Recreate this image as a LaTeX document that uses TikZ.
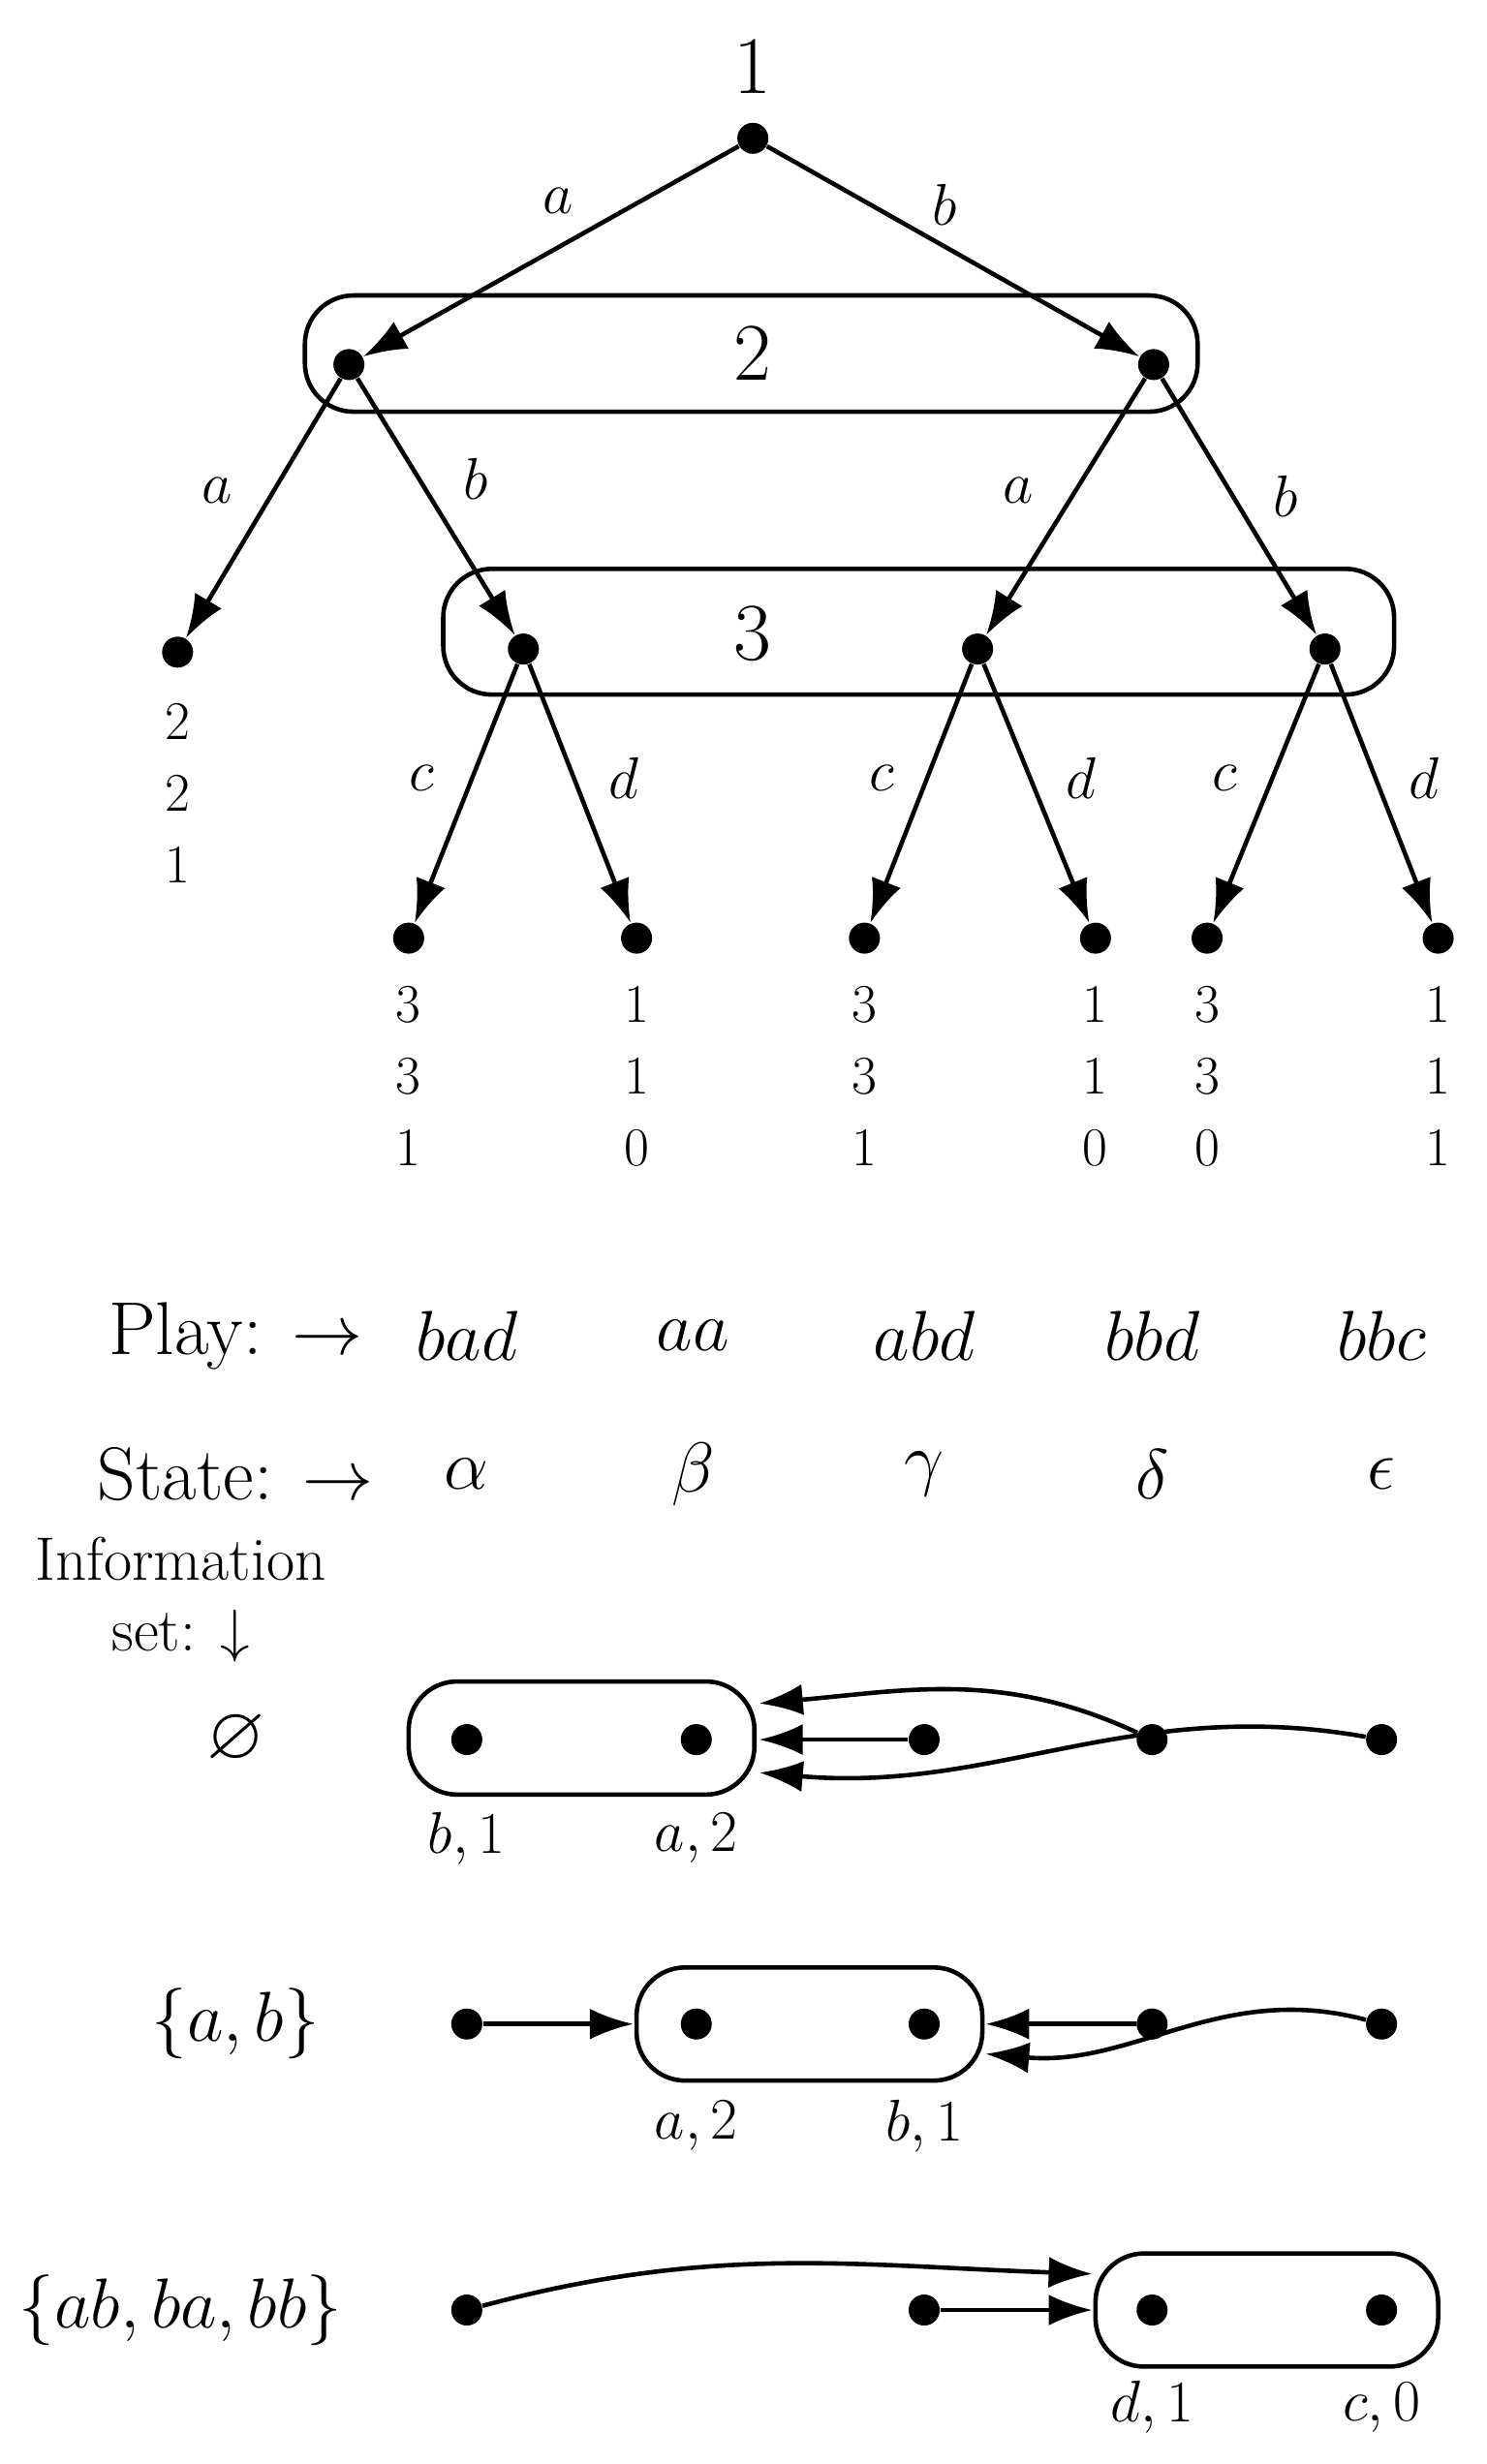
\documentclass[tikz,border=0pt]{standalone}
\usepackage{amssymb}
\usetikzlibrary{arrows.meta}
\tikzset{
  dot/.style={circle,fill=black,inner sep=0pt,minimum size=3.2mm},
  edge/.style={line width=1.3pt,-{Latex[length=4.5mm,width=3.2mm]}},
  infoset/.style={line width=1.3pt,rounded corners=5mm},
  lbl/.style={font=\fontsize{19}{22}\selectfont},
  pay/.style={font=\fontsize{16}{21}\selectfont,align=center},
}
\begin{document}
\begin{tikzpicture}[x=0.0162cm,y=-0.0162cm]
\useasboundingbox (0,0) rectangle (946,1568);

  %Information sets of the tree
  \draw[infoset] (194,188) rectangle (762,262);
  \draw[infoset] (282,362) rectangle (887,442);
  \node[lbl,font=\fontsize{24}{28}\selectfont] at (479,225) {2};
  \node[lbl,font=\fontsize{24}{28}\selectfont] at (479,403) {3};

  %Tree
  \node[dot] (r) at (479,88) {};
  \node[lbl,font=\fontsize{24}{28}\selectfont] at (479,42) {1};
  \node[dot] (a) at (222,232) {};
  \node[dot] (b) at (734,232) {};
  \node[dot] (aa) at (113,415) {};
  \node[dot] (ab) at (333,413) {};
  \node[dot] (ba) at (622,413) {};
  \node[dot] (bb) at (843,413) {};
  \node[dot] (abc) at (260,597) {};
  \node[dot] (abd) at (405,597) {};
  \node[dot] (bac) at (550,597) {};
  \node[dot] (bad) at (697,597) {};
  \node[dot] (bbc) at (768,597) {};
  \node[dot] (bbd) at (915,597) {};

  \draw[edge] (r) -- (a);
  \draw[edge] (r) -- (b);
  \draw[edge] (a) -- (aa);
  \draw[edge] (a) -- (ab);
  \draw[edge] (b) -- (ba);
  \draw[edge] (b) -- (bb);
  \draw[edge] (ab) -- (abc);
  \draw[edge] (ab) -- (abd);
  \draw[edge] (ba) -- (bac);
  \draw[edge] (ba) -- (bad);
  \draw[edge] (bb) -- (bbc);
  \draw[edge] (bb) -- (bbd);

  %Labelling
  \node[lbl] at (355,128) {$a$};
  \node[lbl] at (601,130) {$b$};
  \node[lbl] at (138,312) {$a$};
  \node[lbl] at (303,305) {$b$};
  \node[lbl] at (648,312) {$a$};
  \node[lbl] at (818,316) {$b$};
  \node[lbl] at (268,495) {$c$};
  \node[lbl] at (397,495) {$d$};
  \node[lbl] at (561,495) {$c$};
  \node[lbl] at (688,495) {$d$};
  \node[lbl] at (779,495) {$c$};
  \node[lbl] at (906,495) {$d$};

  %Payoffs
  \node[pay,anchor=north] at (113,440) {2\\2\\1};
  \node[pay,anchor=north] at (260,620) {3\\3\\1};
  \node[pay,anchor=north] at (405,620) {1\\1\\0};
  \node[pay,anchor=north] at (550,620) {3\\3\\1};
  \node[pay,anchor=north] at (697,620) {1\\1\\0};
  \node[pay,anchor=north] at (768,620) {3\\3\\0};
  \node[pay,anchor=north] at (915,620) {1\\1\\1};

  %Plays and states
  \node[lbl,font=\fontsize{22}{26}\selectfont] at (150,850) {Play: $\rightarrow$};
  \node[lbl,font=\fontsize{22}{26}\selectfont] at (150,938) {State: $\rightarrow$};
  \foreach \x/\p/\s in {297/bad/\alpha,441/aa/\beta,588/abd/\gamma,733/bbd/\delta,879/bbc/\epsilon}{
    \node[lbl,font=\fontsize{22}{26}\selectfont] at (\x,850) {$\p$};
    \node[lbl,font=\fontsize{22}{26}\selectfont] at (\x,938) {$\s$};
  }
  \node[pay,font=\fontsize{18}{21}\selectfont] at (115,1018) {Information\\set: $\downarrow$};

  %Row 1
  \node[lbl,font=\fontsize{22}{26}\selectfont] at (150,1107) {$\varnothing$};
  \draw[infoset] (260,1070) rectangle (480,1142);
  \coordinate (e1) at (483,1107);
  \coordinate (e1u) at (483,1084);
  \coordinate (e1d) at (483,1128);
  \node[dot] (p11) at (297,1107) {};
  \node[dot] (p12) at (443,1107) {};
  \node[dot] (p13) at (588,1107) {};
  \node[dot] (p14) at (733,1107) {};
  \node[dot] (p15) at (879,1107) {};
  \node[lbl] at (297,1170) {$b,1$};
  \node[lbl] at (443,1170) {$a,2$};
  \draw[edge] (p13) -- (e1);
  \draw[edge] (p14) to[out=155,in=5] (e1u);
  \draw[edge] (p15) to[out=170,in=-5] (e1d);

  %Row 2
  \node[lbl,font=\fontsize{22}{26}\selectfont] at (150,1288) {$\{a,b\}$};
  \draw[infoset] (405,1252) rectangle (625,1324);
  \coordinate (w2) at (403,1288);
  \coordinate (e2) at (627,1288);
  \coordinate (e2d) at (627,1307);
  \node[dot] (p21) at (297,1288) {};
  \node[dot] (p22) at (443,1288) {};
  \node[dot] (p23) at (588,1288) {};
  \node[dot] (p24) at (733,1288) {};
  \node[dot] (p25) at (879,1288) {};
  \node[lbl] at (443,1353) {$a,2$};
  \node[lbl] at (588,1353) {$b,1$};
  \draw[edge] (p21) -- (w2);
  \draw[edge] (p24) -- (e2);
  \draw[edge] (p25) to[out=165,in=-5] (e2d);

  %Row 3
  \node[lbl,font=\fontsize{22}{26}\selectfont] at (115,1470) {$\{ab,ba,bb\}$};
  \draw[infoset] (697,1434) rectangle (915,1506);
  \coordinate (w3) at (695,1470);
  \coordinate (w3u) at (695,1447);
  \node[dot] (p31) at (297,1470) {};
  \node[dot] (p33) at (588,1470) {};
  \node[dot] (p34) at (733,1470) {};
  \node[dot] (p35) at (879,1470) {};
  \node[lbl] at (733,1532) {$d,1$};
  \node[lbl] at (879,1532) {$c,0$};
  \draw[edge] (p31) to[out=15,in=178] (w3u);
  \draw[edge] (p33) -- (w3);
\end{tikzpicture}
\end{document}
